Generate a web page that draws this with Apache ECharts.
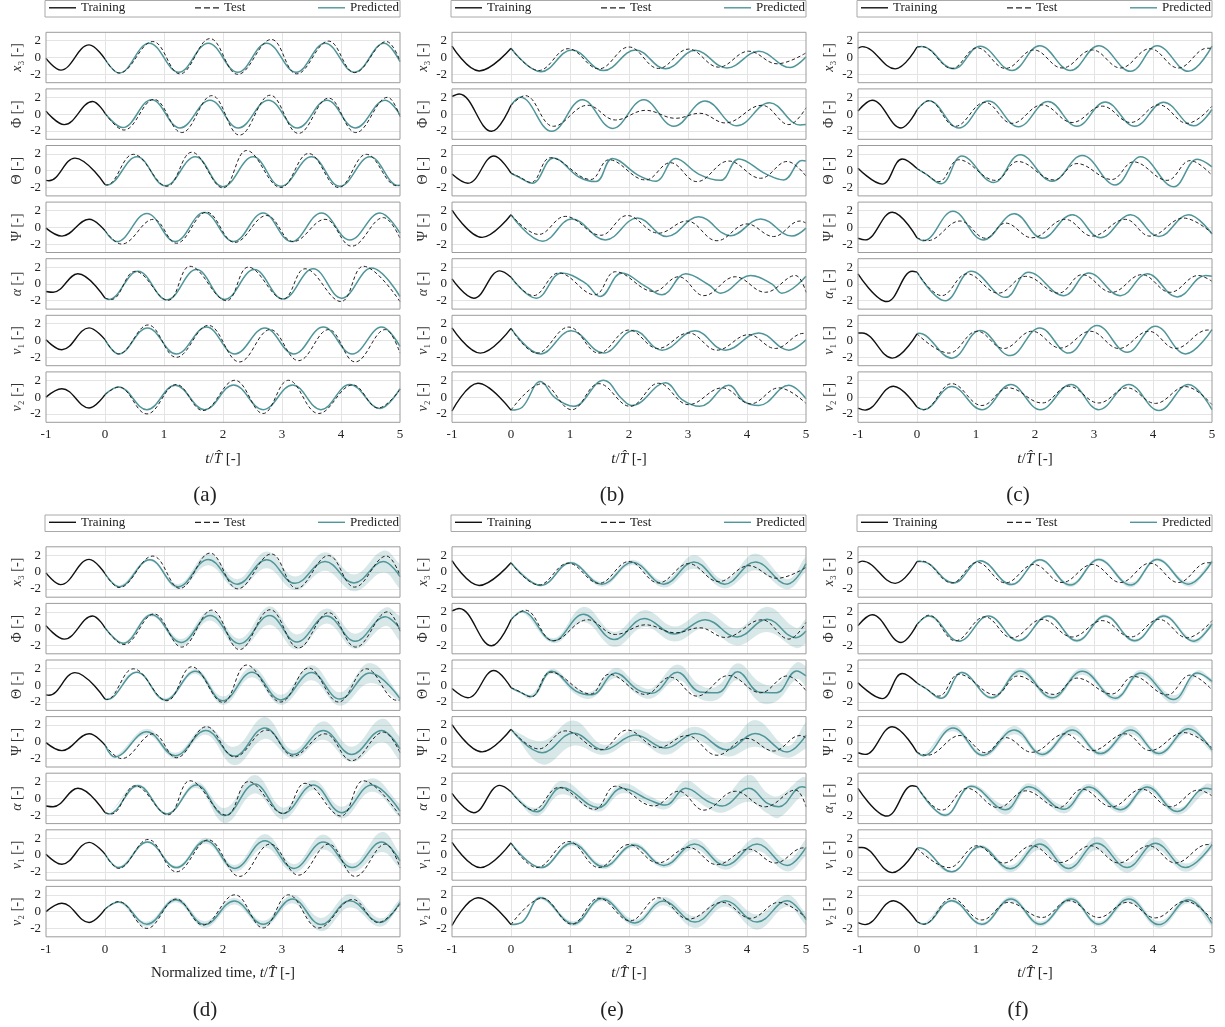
<!DOCTYPE html>
<html><head><meta charset="utf-8">
<script src="https://cdn.jsdelivr.net/npm/echarts@6/dist/echarts.min.js"></script>
<style>html,body{margin:0;padding:0;background:#fff}#c{width:1225px;height:1027px}</style>
</head><body><div id="c"></div>
<script>
// ---------------- DATA (key points [t, value]) ----------------
// Training (shared by a/d, b/e, c/f)
const tr_ad_x3 = [[-1,-0.1],[-0.75,-1.5],[-0.27,1.5],[0,-0.2]];
const tr_ad_phi = [[-1,0.35],[-0.69,-1.25],[-0.21,1.5],[0,0.1]];
const tr_ad_theta = [[-1,-1.15],[-0.95,-1.2],[-0.51,1.5],[0,-1.65]];
const tr_ad_psi = [[-1,-0.1],[-0.73,-1.05],[-0.27,0.95],[0,-0.4]];
const tr_ad_alpha = [[-1,-0.9],[-0.88,-1.0],[-0.46,1.2],[0,-1.7]];
const tr_ad_v1 = [[-1,0.1],[-0.73,-1.1],[-0.27,1.5],[0,0.1]];
const tr_ad_v2 = [[-1,0],[-0.73,1.0],[-0.27,-1.3],[0,0.3]];

const tr_be_x3 = [[-1,1.35],[-0.54,-1.6],[0,1.1]];
const tr_be_phi = [[-1,2.1],[-0.88,2.4],[-0.33,-2.05],[0,1.05]];
const tr_be_theta = [[-1,-0.4],[-0.73,-1.5],[-0.29,1.75],[0,-0.3]];
const tr_be_psi = [[-1,2.05],[-0.49,-1.2],[0,1.5]];
const tr_be_alpha = [[-1,0.6],[-0.63,-1.7],[-0.19,1.55],[0,0.8]];
const tr_be_v1 = [[-1,1.5],[-0.52,-1.5],[0,1.45]];
const tr_be_v2 = [[-1,-1.65],[-0.56,1.65],[0,-1.55]];

const tr_cf_x3 = [[-1,1.1],[-0.93,1.3],[-0.37,-1.35],[0,1.25]];
const tr_cf_phi = [[-1,0.35],[-0.76,1.65],[-0.27,-1.65],[0,0.5]];
const tr_cf_theta = [[-1,0.3],[-0.59,-1.6],[-0.25,1.4],[0,0.25]];
const tr_cf_psi = [[-1,-1.3],[-0.88,-1.5],[-0.42,1.8],[0,-1.25]];
const tr_cf_alpha = [[-1,1.2],[-0.51,-2.1],[-0.08,1.5],[0,1.4]];
const tr_cf_v1 = [[-1,0.9],[-0.93,0.9],[-0.42,-2.1],[0,0.8]];
const tr_cf_v2 = [[-1,-1.3],[-0.88,-1.55],[-0.4,1.3],[0,-1.2]];

// Test (shared by a/d, b/e, c/f)
const te_ad_x3 = [[0,-0.2],[0.24,-1.85],[0.81,1.9],[1.27,-1.95],[1.78,2.25],[2.25,-2.0],[2.82,2.15],[3.25,-1.95],[3.79,1.95],[4.23,-1.8],[4.77,1.9],[5,-0.4]];
const te_ad_phi = [[0,0.1],[0.32,-1.9],[0.83,1.75],[1.30,-2.2],[1.81,2.2],[2.28,-2.5],[2.80,2.25],[3.28,-2.3],[3.79,1.9],[4.25,-2.2],[4.79,2.0],[5,-0.3]];
const te_ad_theta = [[0,-1.65],[0.03,-1.7],[0.48,1.95],[1.05,-1.85],[1.47,2.2],[2.0,-2.05],[2.40,2.4],[2.98,-2.0],[3.45,2.05],[3.96,-2.0],[4.43,1.95],[4.95,-1.8],[5,-1.75]];
const te_ad_psi = [[0,-0.4],[0.28,-2.0],[0.82,0.95],[1.21,-1.9],[1.72,1.8],[2.2,-1.8],[2.74,1.4],[3.19,-1.7],[3.73,0.95],[4.18,-2.25],[4.72,1.15],[5,-1.3]];
const te_ad_alpha = [[0,-1.7],[0.11,-1.85],[0.51,1.5],[1.07,-1.95],[1.44,2.1],[2.06,-2.0],[2.43,2.0],[3.02,-1.8],[3.39,1.8],[4.0,-2.1],[4.38,2.1],[5,-2.1]];
const te_ad_v1 = [[0,0.1],[0.23,-1.6],[0.73,1.85],[1.21,-2.0],[1.75,1.8],[2.28,-2.55],[2.80,1.3],[3.28,-2.4],[3.79,1.3],[4.24,-2.55],[4.75,1.3],[5,-1.5]];
const te_ad_v2 = [[0,0.3],[0.23,1.2],[0.71,-2.0],[1.21,1.5],[1.66,-1.6],[2.2,2.0],[2.68,-1.95],[3.11,2.0],[3.62,-1.95],[4.2,1.45],[4.63,-1.3],[5,0.9]];

const te_be_x3 = [[0,1.1],[0.47,-1.55],[0.97,1.05],[1.49,-1.35],[2.0,1.25],[2.5,-1.3],[3.01,1.0],[3.52,-1.15],[4.03,0.75],[4.51,-0.75],[5,0.55]];
const te_be_phi = [[0,1.05],[0.24,2.2],[0.72,-1.45],[1.3,1.05],[1.77,-0.7],[2.28,0.45],[2.79,-0.5],[3.2,0.1],[3.63,-1.05],[4.25,1.05],[4.71,-1.25],[5,0.75]];
const te_be_theta = [[0,-0.3],[0.13,-0.7],[0.34,-1.4],[0.67,1.55],[1.35,-1.05],[1.66,1.3],[2.28,-1.1],[2.70,0.95],[3.15,-1.3],[3.69,1.15],[4.23,-0.9],[4.68,1.1],[5,-0.65]];
const te_be_psi = [[0,1.5],[0.47,-0.85],[0.92,1.3],[1.52,-0.95],[1.97,1.4],[2.5,-0.7],[2.98,0.75],[3.49,-1.6],[4.0,0.4],[4.45,-1.1],[4.9,0.75],[5,0.5]];
const te_be_alpha = [[0,0.8],[0.38,-1.4],[0.81,1.3],[1.42,-1.3],[1.77,1.45],[2.42,-0.9],[2.84,0.85],[3.27,-1.4],[3.80,0.85],[4.31,-1.0],[4.82,1.0],[5,-1.0]];
const te_be_v1 = [[0,1.45],[0.44,-1.5],[0.98,1.6],[1.49,-1.5],[2.0,1.25],[2.49,-0.95],[3.01,0.9],[3.49,-1.15],[4.03,0.7],[4.48,-0.95],[4.96,0.85],[5,0.83]];
const te_be_v2 = [[0,-1.55],[0.53,1.6],[1.03,-1.5],[1.49,1.6],[2.02,-1.1],[2.5,1.65],[3.01,-0.9],[3.58,1.1],[4.06,-0.8],[4.54,1.1],[5,-0.75]];

const te_cf_x3 = [[0,1.25],[0.08,1.3],[0.59,-1.3],[1.02,1.15],[1.5,-1.3],[1.98,0.9],[2.46,-1.25],[2.97,0.9],[3.45,-1.25],[3.95,1.05],[4.43,-1.25],[4.92,1.1],[5,1.1]];
const te_cf_phi = [[0,0.5],[0.2,1.6],[0.65,-1.45],[1.15,1.4],[1.61,-1.1],[2.12,1.1],[2.63,-1.0],[3.14,0.95],[3.62,-1.0],[4.1,1.1],[4.58,-1.1],[5,0.95]];
const te_cf_theta = [[0,0.25],[0.14,-0.35],[0.37,-1.3],[0.71,1.3],[1.33,-1.15],[1.71,1.1],[2.32,-1.1],[2.71,0.85],[3.3,-1.05],[3.67,1.05],[4.24,-1.15],[4.63,1.2],[5,-0.55]];
const te_cf_psi = [[0,-1.25],[0.17,-1.6],[0.73,0.75],[1.16,-1.3],[1.5,0.5],[1.95,-1.25],[2.51,0.95],[2.97,-1.05],[3.53,0.95],[3.95,-1.05],[4.52,1.1],[5,-0.7]];
const te_cf_alpha = [[0,1.4],[0.42,-1.4],[0.85,1.2],[1.38,-1.1],[1.84,0.9],[2.4,-1.1],[2.8,1.1],[3.3,-1.0],[3.81,1.1],[4.29,-1.0],[4.77,1.0],[5,0.3]];
const te_cf_v1 = [[0,0.8],[0.54,-1.5],[1.02,1.1],[1.47,-0.95],[1.95,1.1],[2.43,-0.9],[2.94,1.1],[3.42,-0.95],[3.93,1.1],[4.38,-0.95],[4.93,1.25],[5,1.2]];
const te_cf_v2 = [[0,-1.2],[0.11,-1.5],[0.59,1.6],[1.1,-1.0],[1.55,1.1],[2.12,-0.7],[2.57,1.3],[3.08,-0.7],[3.56,1.1],[4.04,-0.75],[4.55,1.25],[5,-0.9]];

// Predicted, deterministic models (a), (b), (c)
const pr_a_x3 = [[0,-0.2],[0.24,-1.85],[0.75,1.7],[1.25,-1.75],[1.75,1.7],[2.25,-1.75],[2.74,1.7],[3.24,-1.75],[3.73,1.7],[4.23,-1.75],[4.73,1.7],[5,-0.5]];
const pr_a_phi = [[0,0.1],[0.30,-1.6],[0.79,1.7],[1.27,-1.65],[1.78,1.65],[2.26,-1.65],[2.77,1.65],[3.26,-1.65],[3.76,1.65],[4.24,-1.65],[4.75,1.65],[5,-0.1]];
const pr_a_theta = [[0,-1.65],[0.03,-1.7],[0.54,1.65],[1.02,-1.8],[1.53,1.65],[2.0,-1.9],[2.51,1.65],[2.98,-1.85],[3.5,1.65],[3.98,-1.85],[4.49,1.65],[4.97,-1.75],[5,-1.7]];
const pr_a_psi = [[0,-0.4],[0.20,-1.7],[0.71,1.65],[1.19,-1.7],[1.68,1.75],[2.18,-1.7],[2.68,1.7],[3.16,-1.7],[3.67,1.7],[4.15,-1.5],[4.66,1.7],[5,-0.7]];
const pr_a_alpha = [[0,-1.7],[0.06,-1.85],[0.56,1.5],[1.05,-1.9],[1.55,1.7],[2.03,-1.85],[2.53,1.7],[3.02,-1.8],[3.53,1.8],[4.01,-1.7],[4.52,1.9],[5,-1.5]];
const pr_a_v1 = [[0,0.1],[0.23,-1.6],[0.72,1.5],[1.21,-1.6],[1.72,1.6],[2.20,-1.6],[2.71,1.5],[3.2,-1.6],[3.7,1.6],[4.19,-1.6],[4.69,1.6],[5,-0.7]];
const pr_a_v2 = [[0,0.3],[0.23,1.2],[0.71,-1.5],[1.19,1.4],[1.69,-1.5],[2.18,1.45],[2.68,-1.5],[3.18,1.45],[3.66,-1.5],[4.15,1.5],[4.66,-1.35],[5,1.0]];

const pr_b_x3 = [[0,1.1],[0.51,-1.7],[1.03,0.9],[1.57,-1.55],[2.11,0.9],[2.62,-1.35],[3.12,0.85],[3.66,-1.25],[4.20,0.75],[4.73,-1.2],[5,0.1]];
const pr_b_phi = [[0,1.05],[0.16,2.0],[0.69,-2.05],[1.21,1.7],[1.72,-1.7],[2.25,1.7],[2.76,-1.45],[3.29,1.55],[3.83,-1.4],[4.38,1.35],[4.90,-1.3],[5,-1.25]];
const pr_b_theta = [[0,-0.3],[0.13,-0.75],[0.36,-1.5],[0.72,1.5],[1.15,-0.75],[1.44,-1.3],[1.72,1.45],[2.16,-0.55],[2.45,-1.25],[2.79,1.45],[3.18,-0.4],[3.55,-1.15],[3.86,1.4],[4.31,-0.35],[4.62,-1.1],[4.93,1.2],[5,1.15]];
const pr_b_psi = [[0,1.5],[0.54,-1.65],[1.03,1.0],[1.6,-1.5],[2.14,1.1],[2.64,-1.1],[3.18,1.25],[3.72,-1.0],[4.23,1.0],[4.76,-1.05],[5,-0.1]];
const pr_b_alpha = [[0,0.8],[0.43,-1.7],[0.86,1.3],[1.26,0.1],[1.51,-1.5],[1.88,1.3],[2.28,-0.3],[2.56,-1.3],[2.96,1.2],[3.35,-0.1],[3.55,-1.1],[4.06,1.0],[4.42,0],[4.59,-1.1],[5,0.9]];
const pr_b_v1 = [[0,1.45],[0.5,-1.6],[1.02,1.15],[1.57,-1.5],[2.08,1.2],[2.56,-1.15],[3.12,1.15],[3.63,-1.15],[4.2,0.9],[4.71,-1.15],[5,0.1]];
const pr_b_v2 = [[0,-1.55],[0.19,-1.2],[0.5,1.85],[0.75,-0.1],[1.06,-1.1],[1.57,2.0],[1.88,-0.2],[2.05,-1.0],[2.62,1.7],[2.9,-0.3],[3.2,-1.1],[3.69,1.4],[3.95,-0.5],[4.2,-1.0],[4.71,1.4],[5,-0.2]];

const pr_c_x3 = [[0,1.25],[0.08,1.3],[0.62,-1.35],[1.07,1.35],[1.61,-1.55],[2.08,1.4],[2.6,-1.55],[3.08,1.4],[3.62,-1.65],[4.07,1.4],[4.6,-1.65],[5,1.35]];
const pr_c_phi = [[0,0.5],[0.2,1.6],[0.71,-1.65],[1.21,1.55],[1.72,-1.5],[2.22,1.5],[2.71,-1.45],[3.19,1.45],[3.69,-1.45],[4.18,1.4],[4.69,-1.4],[5,0.55]];
const pr_c_theta = [[0,0.25],[0.14,-0.35],[0.41,-1.55],[0.76,1.75],[1.3,-1.4],[1.75,1.9],[2.29,-1.25],[2.8,1.8],[3.36,-1.7],[3.79,1.65],[4.35,-1.9],[4.75,1.35],[5,0.45]];
const pr_c_psi = [[0,-1.25],[0.11,-1.6],[0.61,1.9],[1.12,-1.5],[1.65,1.6],[2.12,-1.3],[2.63,1.5],[3.11,-1.25],[3.62,1.5],[4.1,-1.1],[4.6,1.5],[5,-0.8]];
const pr_c_alpha = [[0,1.4],[0.48,-2.0],[0.92,1.5],[1.5,-1.6],[1.89,1.4],[2.49,-1.4],[2.91,1.3],[3.45,-1.4],[3.9,1.2],[4.41,-1.55],[4.89,1.0],[5,0.9]];
const pr_c_v1 = [[0,0.8],[0.03,0.85],[0.59,-2.1],[1.07,1.2],[1.58,-1.8],[2.08,1.5],[2.57,-1.5],[3.05,1.8],[3.56,-1.4],[4.04,1.7],[4.55,-1.6],[5,1.3]];
const pr_c_v2 = [[0,-1.2],[0.11,-1.5],[0.59,1.25],[1.1,-1.5],[1.59,1.5],[2.09,-1.5],[2.61,1.5],[3.08,-1.5],[3.59,1.5],[4.1,-1.6],[4.6,1.5],[5,-1.5]];

// Predicted with uncertainty (d), (e), (f): [t, mean, half-width of band]
const pr_d_x3 = [[0,-0.2,0],[0.24,-1.75,0.1],[0.76,1.45,0.15],[1.24,-1.75,0.3],[1.75,1.5,0.7],[2.24,-1.45,0.6],[2.74,1.45,1.0],[3.22,-1.35,0.8],[3.73,1.25,1.1],[4.22,-1.3,1.0],[4.72,1.25,1.3],[5,-0.55,1.5]];
const pr_d_phi = [[0,0.1,0],[0.31,-1.75,0.1],[0.79,1.65,0.2],[1.29,-1.65,0.4],[1.78,1.55,0.6],[2.28,-1.8,0.6],[2.79,1.55,1.1],[3.25,-1.6,0.9],[3.76,1.5,0.9],[4.24,-1.5,0.9],[4.75,1.4,1.1],[5,0,1.5]];
const pr_d_theta = [[0,-1.65,0],[0.03,-1.7,0.02],[0.54,1.55,0.1],[1.02,-1.75,0.2],[1.53,1.65,0.3],[2.0,-1.85,0.5],[2.49,1.55,0.6],[2.98,-1.75,0.6],[3.5,1.5,0.9],[3.98,-1.65,0.8],[4.49,1.45,1.2],[5,-1.6,0.4]];
const pr_d_psi = [[0,-0.4,0],[0.17,-1.8,0.15],[0.71,1.2,0.35],[1.19,-1.65,0.35],[1.71,1.35,0.5],[2.19,-1.7,1.1],[2.71,1.65,1.3],[3.19,-1.5,0.5],[3.7,1.35,1.1],[4.18,-1.5,0.9],[4.69,1.35,1.4],[5,-0.85,1.4]];
const pr_d_alpha = [[0,-1.7,0],[0.06,-1.85,0.02],[0.56,1.5,0.2],[1.05,-1.85,0.15],[1.55,1.6,0.35],[2.03,-2.05,0.9],[2.54,1.7,1.1],[3.02,-1.8,0.7],[3.53,1.6,0.6],[4.01,-1.7,0.7],[4.52,1.6,0.8],[5,-1.5,0.8]];
const pr_d_v1 = [[0,0.1,0],[0.23,-1.5,0.1],[0.72,1.55,0.15],[1.21,-1.5,0.2],[1.71,1.7,0.35],[2.2,-1.6,0.4],[2.71,1.7,0.8],[3.2,-1.6,0.5],[3.7,1.55,0.9],[4.19,-1.5,0.5],[4.69,1.55,1.2],[5,-0.7,0.9]];
const pr_d_v2 = [[0,0.3,0],[0.23,1.15,0.05],[0.71,-1.5,0.3],[1.2,1.4,0.3],[1.69,-1.55,0.4],[2.19,1.25,0.4],[2.68,-1.5,0.4],[3.18,1.5,0.5],[3.66,-1.55,0.8],[4.15,1.3,0.8],[4.66,-1.3,0.5],[5,1.1,0.4]];

const pr_e_x3 = [[0,1.1,0],[0.51,-1.6,0.1],[1.01,1.1,0.15],[1.54,-1.45,0.3],[2.06,1.15,0.3],[2.59,-1.45,0.4],[3.1,1.2,0.8],[3.62,-1.45,0.5],[4.14,1.2,1.0],[4.68,-1.45,0.6],[5,1.0,0.9]];
const pr_e_phi = [[0,1.05,0],[0.19,2.05,0.1],[0.72,-1.45,0.3],[1.23,1.7,0.9],[1.75,-1.3,0.9],[2.26,1.2,1.0],[2.77,-0.65,0.9],[3.29,1.05,1.0],[3.83,-1.0,1.0],[4.34,1.1,1.5],[4.83,-1.1,1.2],[5,-0.3,1.5]];
const pr_e_theta = [[0,-0.3,0],[0.13,-0.75,0.05],[0.34,-1.35,0.2],[0.69,1.65,0.3],[1.1,-0.7,0.4],[1.37,-1.15,0.4],[1.77,1.45,0.6],[2.15,-0.55,0.6],[2.39,-0.95,0.6],[2.82,1.55,0.9],[3.2,-0.8,0.8],[3.5,-0.9,0.8],[3.84,1.6,1.0],[4.22,-0.85,1.2],[4.5,-0.9,1.0],[4.84,1.7,1.0],[5,1.1,1.2]];
const pr_e_psi = [[0,1.5,0],[0.53,-1.3,1.4],[1.06,1.05,1.5],[1.57,-0.95,0.6],[2.11,0.8,0.7],[2.62,-0.75,0.8],[3.12,1.0,0.8],[3.66,-0.95,0.8],[4.14,1.0,1.6],[4.68,-1.2,0.7],[5,0.8,1.6]];
const pr_e_alpha = [[0,0.8,0],[0.43,-1.6,0.5],[0.86,1.3,0.8],[1.48,-1.1,0.5],[1.88,1.2,0.6],[2.35,-0.2,0.5],[2.62,-0.8,0.5],[2.96,1.2,0.9],[3.35,-0.4,0.8],[3.58,-0.9,0.8],[4.03,1.2,1.6],[4.35,-0.6,1.2],[4.54,-1.0,1.3],[4.93,1.4,1.1],[5,1.3,1.2]];
const pr_e_v1 = [[0,1.4,0],[0.51,-1.5,0.15],[1.03,1.4,0.3],[1.57,-1.4,0.3],[2.08,1.2,0.3],[2.59,-1.25,0.3],[3.11,1.3,0.6],[3.63,-1.25,0.5],[4.17,1.3,0.8],[4.68,-1.25,0.7],[5,0.9,1.0]];
const pr_e_v2 = [[0,-1.55,0],[0.2,-1.2,0.05],[0.5,1.65,0.2],[1.06,-1.45,0.3],[1.54,1.55,0.3],[2.1,-1.35,0.4],[2.58,1.25,0.5],[3.12,-1.25,0.7],[3.63,1.3,0.7],[4.17,-1.25,0.9],[4.68,1.3,0.7],[5,-0.95,0.7]];

const pr_f_x3 = [[0,1.25,0],[0.08,1.25,0.02],[0.62,-1.3,0.05],[1.07,1.35,0.1],[1.6,-1.5,0.15],[2.08,1.45,0.15],[2.6,-1.55,0.25],[3.08,1.5,0.2],[3.62,-1.55,0.3],[4.07,1.5,0.2],[4.6,-1.45,0.3],[5,1.25,0.25]];
const pr_f_phi = [[0,0.5,0],[0.2,1.5,0.05],[0.71,-1.5,0.1],[1.21,1.5,0.1],[1.72,-1.45,0.15],[2.22,1.5,0.15],[2.71,-1.45,0.2],[3.19,1.5,0.2],[3.69,-1.45,0.2],[4.18,1.5,0.2],[4.69,-1.5,0.25],[5,0.55,0.3]];
const pr_f_theta = [[0,0.25,0],[0.14,-0.35,0.02],[0.41,-1.55,0.1],[0.76,1.5,0.15],[1.27,-1.5,0.2],[1.75,1.7,0.4],[2.29,-1.5,0.3],[2.8,1.65,0.4],[3.36,-1.55,0.3],[3.79,1.45,0.4],[4.35,-1.7,0.5],[4.75,1.45,0.3],[5,0.45,0.3]];
const pr_f_psi = [[0,-1.25,0],[0.11,-1.65,0.05],[0.61,1.65,0.4],[1.12,-1.6,0.25],[1.65,1.4,0.5],[2.12,-1.5,0.3],[2.63,1.4,0.5],[3.11,-1.4,0.3],[3.62,1.4,0.5],[4.1,-1.4,0.3],[4.6,1.55,0.5],[5,-1.0,0.3]];
const pr_f_alpha = [[0,1.4,0],[0.48,-2.0,0.2],[0.92,1.45,0.2],[1.5,-1.35,0.6],[1.89,1.4,0.4],[2.49,-1.3,0.5],[2.91,1.35,0.4],[3.45,-1.35,0.4],[3.9,1.35,0.4],[4.41,-1.55,0.4],[4.89,1.2,0.5],[5,1.1,0.6]];
const pr_f_v1 = [[0,0.8,0],[0.03,0.85,0.02],[0.59,-2.0,0.1],[1.07,1.0,0.2],[1.58,-1.65,0.4],[2.08,1.3,0.7],[2.57,-1.6,0.5],[3.05,1.4,0.8],[3.56,-1.5,0.6],[4.04,1.4,0.7],[4.55,-1.5,0.5],[5,1.2,0.5]];
const pr_f_v2 = [[0,-1.2,0],[0.11,-1.5,0.05],[0.59,1.3,0.2],[1.1,-1.5,0.2],[1.59,1.5,0.3],[2.09,-1.5,0.3],[2.61,1.5,0.3],[3.08,-1.5,0.3],[3.59,1.5,0.4],[4.1,-1.55,0.4],[4.6,1.4,0.4],[5,-1.4,0.4]];

// Labels
const yLabelsStd = ['{i|x}₃ [-]', 'Φ [-]', 'Θ [-]', 'Ψ [-]', '{i|α} [-]', '{i|v}₁ [-]', '{i|v}₂ [-]'];
const yLabelsAlt = ['{i|x}₃ [-]', 'Φ [-]', 'Θ [-]', 'Ψ [-]', '{i|α}₁ [-]', '{i|v}₁ [-]', '{i|v}₂ [-]'];
const xLabelShort = '{i|t}/{i|T\u0302} [-]';
const xLabelLong = 'Normalized time, {i|t}/{i|T\u0302} [-]';
const legendNames = ['Training', 'Test', 'Predicted'];
const panelTags = ['(a)', '(b)', '(c)', '(d)', '(e)', '(f)'];

// ---------------- BUILD ----------------
const SERIF = "'Liberation Serif','DejaVu Serif',serif";
const TEAL = '#4f9599';
const BANDC = 'rgba(79,149,153,0.22)';
const SM = 0.4;
const COL_LEFT = [46, 452, 858];
const ROW_TOP = [32.3, 546.8];
const STEP = 56.6, H = 50.4, W = 354;

const TR = {
  ad: [tr_ad_x3, tr_ad_phi, tr_ad_theta, tr_ad_psi, tr_ad_alpha, tr_ad_v1, tr_ad_v2],
  be: [tr_be_x3, tr_be_phi, tr_be_theta, tr_be_psi, tr_be_alpha, tr_be_v1, tr_be_v2],
  cf: [tr_cf_x3, tr_cf_phi, tr_cf_theta, tr_cf_psi, tr_cf_alpha, tr_cf_v1, tr_cf_v2]
};
const TE = {
  ad: [te_ad_x3, te_ad_phi, te_ad_theta, te_ad_psi, te_ad_alpha, te_ad_v1, te_ad_v2],
  be: [te_be_x3, te_be_phi, te_be_theta, te_be_psi, te_be_alpha, te_be_v1, te_be_v2],
  cf: [te_cf_x3, te_cf_phi, te_cf_theta, te_cf_psi, te_cf_alpha, te_cf_v1, te_cf_v2]
};
const panels = [
  {col:0,row:0,set:'ad',band:false,yl:yLabelsStd,xl:xLabelShort,pred:[pr_a_x3,pr_a_phi,pr_a_theta,pr_a_psi,pr_a_alpha,pr_a_v1,pr_a_v2]},
  {col:1,row:0,set:'be',band:false,yl:yLabelsStd,xl:xLabelShort,pred:[pr_b_x3,pr_b_phi,pr_b_theta,pr_b_psi,pr_b_alpha,pr_b_v1,pr_b_v2]},
  {col:2,row:0,set:'cf',band:false,yl:yLabelsAlt,xl:xLabelShort,pred:[pr_c_x3,pr_c_phi,pr_c_theta,pr_c_psi,pr_c_alpha,pr_c_v1,pr_c_v2]},
  {col:0,row:1,set:'ad',band:true,yl:yLabelsStd,xl:xLabelLong,pred:[pr_d_x3,pr_d_phi,pr_d_theta,pr_d_psi,pr_d_alpha,pr_d_v1,pr_d_v2]},
  {col:1,row:1,set:'be',band:true,yl:yLabelsStd,xl:xLabelShort,pred:[pr_e_x3,pr_e_phi,pr_e_theta,pr_e_psi,pr_e_alpha,pr_e_v1,pr_e_v2]},
  {col:2,row:1,set:'cf',band:true,yl:yLabelsAlt,xl:xLabelShort,pred:[pr_f_x3,pr_f_phi,pr_f_theta,pr_f_psi,pr_f_alpha,pr_f_v1,pr_f_v2]}
];

// smooth a pixel polyline with cubic Bezier segments (same idea as ECharts' line smoothing)
function smoothPts(pts, smooth, steps) {
  const n = pts.length, out = [pts[0]];
  const cps = pts.map((p, i) => {
    const a = pts[Math.max(i - 1, 0)], b = pts[Math.min(i + 1, n - 1)];
    const vx = b[0] - a[0], vy = b[1] - a[1];
    const d0 = Math.hypot(p[0] - a[0], p[1] - a[1]), d1 = Math.hypot(b[0] - p[0], b[1] - p[1]);
    const r = (d0 + d1) > 0 ? d1 / (d0 + d1) : 0.5;
    return {f: [p[0] + vx * smooth * r, p[1] + vy * smooth * r],
            b: [p[0] - vx * smooth * (1 - r), p[1] - vy * smooth * (1 - r)]};
  });
  for (let i = 0; i < n - 1; i++) {
    const p0 = pts[i], c1 = cps[i].f, c2 = cps[i + 1].b, p1 = pts[i + 1];
    for (let k = 1; k <= steps; k++) {
      const t = k / steps, u = 1 - t;
      out.push([u*u*u*p0[0] + 3*u*u*t*c1[0] + 3*u*t*t*c2[0] + t*t*t*p1[0],
                u*u*u*p0[1] + 3*u*u*t*c1[1] + 3*u*t*t*c2[1] + t*t*t*p1[1]]);
    }
  }
  return out;
}

const grids = [], xAxes = [], yAxes = [], series = [], legends = [], graphics = [];
const splitStyle = {show:true, showMinLine:false, showMaxLine:false, lineStyle:{color:'#e4e4e4', width:1}};
const DASH_ICON = 'path://M0,0h6v1h-6zM9,0h6v1h-6zM18,0h6v1h-6z';

panels.forEach((p, pi) => {
  const left = COL_LEFT[p.col];
  const rowTop = ROW_TOP[p.row];
  for (let i = 0; i < 7; i++) {
    const g = pi * 7 + i;
    const last = i === 6;
    grids.push({left: left, top: rowTop + i * STEP, width: W, height: H, show: true,
      borderColor: '#9c9c9c', borderWidth: 1, backgroundColor: 'transparent', z: 6});
    xAxes.push({type:'value', gridIndex:g, min:-1, max:5, interval:1,
      axisLine:{show:false}, axisTick:{show:false},
      axisLabel:{show:last, fontFamily:SERIF, fontSize:13, color:'#222', margin:6},
      splitLine: splitStyle,
      name: last ? p.xl : '', nameLocation:'middle', nameGap:29,
      nameTextStyle:{fontFamily:SERIF, fontSize:15, color:'#222',
        rich:{i:{fontFamily:SERIF, fontSize:15, fontStyle:'italic', color:'#222'}}}
    });
    yAxes.push({type:'value', gridIndex:g, min:-3, max:3, splitNumber:3,
      axisLine:{show:false}, axisTick:{show:false},
      axisLabel:{fontFamily:SERIF, fontSize:13, color:'#222', margin:5, showMinLabel:false, showMaxLabel:false},
      splitLine: splitStyle,
      name: p.yl[i], nameLocation:'middle', nameGap:22,
      nameTextStyle:{fontFamily:SERIF, fontSize:14, color:'#333',
        rich:{i:{fontFamily:SERIF, fontSize:14, fontStyle:'italic', color:'#333'}}}
    });
    const tr = TR[p.set][i], te = TE[p.set][i], pr = p.pred[i];
    if (p.band) {
      series.push({type:'custom', name:'band-'+g, xAxisIndex:g, yAxisIndex:g, clip:true, silent:true, z:1,
        data: pr, encode:{x:0, y:1},
        renderItem: (params, api) => {
          if (params.dataIndex !== 0) return null;
          const up = pr.map(d => api.coord([d[0], d[1] + d[2]]));
          const lo = pr.map(d => api.coord([d[0], d[1] - d[2]])).reverse();
          const pts = smoothPts(up, SM, 10).concat(smoothPts(lo, SM, 10));
          return {type:'polygon', shape:{points:pts}, style:{fill:BANDC, stroke:null}};
        }});
    }
    series.push({type:'line', name:'Training', xAxisIndex:g, yAxisIndex:g, data: tr, smooth:SM, symbol:'none',
      silent:true, color:'#111', lineStyle:{color:'#111', width:1.4}, z:3});
    series.push({type:'line', name:'Predicted', xAxisIndex:g, yAxisIndex:g, data: pr.map(d => [d[0], d[1]]),
      smooth:SM, symbol:'none', silent:true, color:TEAL, lineStyle:{color:TEAL, width:1.5}, z:3});
    series.push({type:'line', name:'Test', xAxisIndex:g, yAxisIndex:g, data: te, smooth:SM, symbol:'none',
      silent:true, color:'#222', lineStyle:{color:'#222', width:1, type:[3.5,2.5]}, z:4});
  }
  // legend box + legend items
  const boxTop = p.row === 0 ? 0.5 : 515;
  graphics.push({type:'rect', shape:{x:left - 1, y:boxTop, width:355, height:16.5},
    style:{fill:'#fff', stroke:'#a8a8a8', lineWidth:1}, z:0, silent:true});
  const lt = boxTop + 0.8;
  const common = {top: lt, padding:0, itemHeight:1.4, selectedMode:false, symbolKeepAspect:false,
    textStyle:{fontFamily:SERIF, fontSize:13, color:'#222'}, z:10};
  legends.push(Object.assign({}, common, {left:left + 3, itemWidth:27, data:[{name:legendNames[0], icon:'rect'}]}));
  legends.push(Object.assign({}, common, {left:left + 149, itemWidth:24, itemHeight:1.2, data:[{name:legendNames[1], icon:DASH_ICON}]}));
  legends.push(Object.assign({}, common, {left:left + 272, itemWidth:27, data:[{name:legendNames[2], icon:'rect'}]}));
  // panel tag
  const cx = [205, 612, 1018][p.col];
  const cy = p.row === 0 ? 495 : 1010;
  graphics.push({type:'text', x:cx, y:cy, silent:true,
    style:{text:panelTags[pi], fontFamily:SERIF, fontSize:21, fill:'#222',
      align:'center', verticalAlign:'middle', textAlign:'center', textVerticalAlign:'middle'}});
});

const chart = echarts.init(document.getElementById('c'), null, {renderer:'canvas'});
chart.setOption({
  animation:false,
  backgroundColor:'#fff',
  tooltip:{show:false},
  grid:grids, xAxis:xAxes, yAxis:yAxes, series:series, legend:legends, graphic:graphics
});
</script></body></html>
